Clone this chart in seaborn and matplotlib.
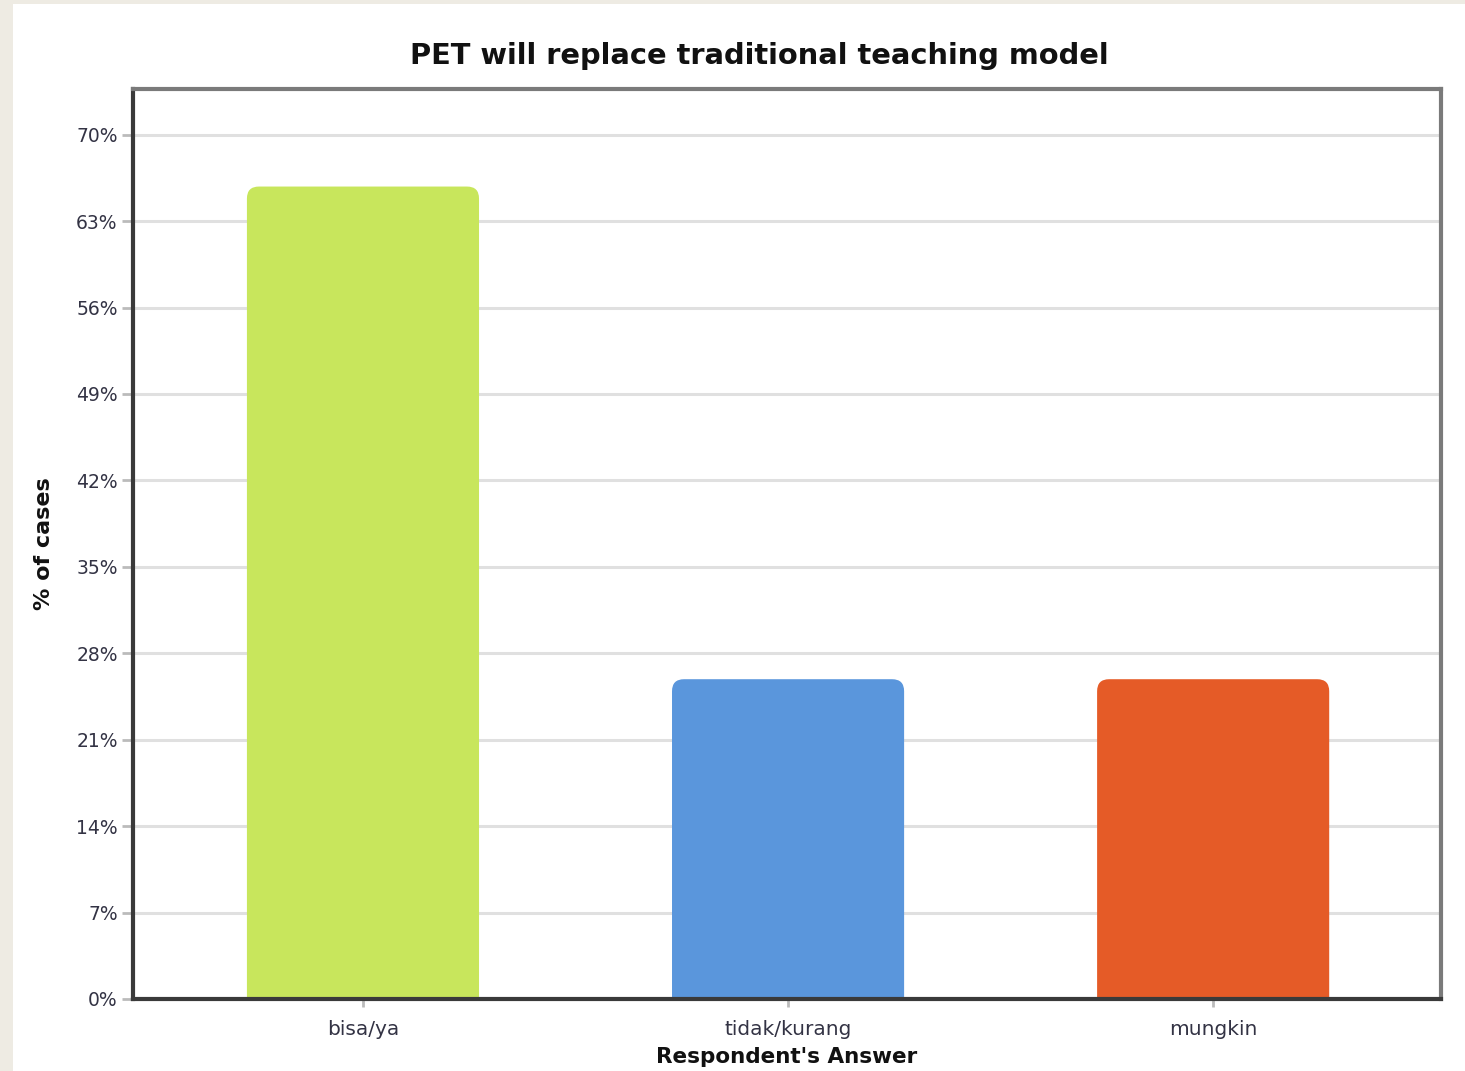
import matplotlib
matplotlib.use("Agg")
import matplotlib.pyplot as plt
from matplotlib.patches import FancyBboxPatch, Rectangle
import seaborn as sns
import pandas as pd

categories = ["bisa/ya", "tidak/kurang", "mungkin"]
values = [65.8, 25.9, 25.9]
colors = ["#c8e65c", "#5a96dc", "#e55b27"]
yticks = [0, 7, 14, 21, 28, 35, 42, 49, 56, 63, 70]
ytick_labels = [f"{t}%" for t in yticks]

sns.set_theme(style="white")
plt.rcParams['font.family'] = ['DejaVu Sans']

df = pd.DataFrame({"answer": categories, "pct": values})

fig = plt.figure(figsize=(14.65, 10.71), dpi=100, facecolor="#eeebe3")
fig.patches.append(Rectangle((13/1465, 0), 1 - 13/1465, 1 - 4/1071,
                             transform=fig.transFigure, facecolor="white",
                             edgecolor="none", zorder=-10))
ax = fig.add_axes([133/1465, 1 - 999/1071, (1441 - 133)/1465, (999 - 89)/1071])
ax.set_facecolor("white")

sns.barplot(data=df, x="answer", y="pct", hue="answer", palette=colors,
            width=0.546, ax=ax, legend=False, saturation=1)

ax.set_xlim(-0.541, 2.536)
ax.set_ylim(0, 73.7)

# replace square bars with rounded-top bars derived from each bar's geometry
x_px_per_unit = 425.0
y_px_per_unit = 86.4 / 7
radius_px = 12
rx = radius_px / x_px_per_unit
aspect = (1 / y_px_per_unit) / (1 / x_px_per_unit)
for p in list(ax.patches):
    x, y = p.get_x(), p.get_y()
    w, h = p.get_width(), p.get_height()
    fc = p.get_facecolor()
    p.set_visible(False)
    ext = 3.0
    fb = FancyBboxPatch((x, y - ext), w, h + ext,
                        boxstyle=f"round,pad=0,rounding_size={rx}",
                        mutation_aspect=aspect, facecolor=fc,
                        edgecolor="none", zorder=3, clip_on=True)
    ax.add_patch(fb)

ax.set_yticks(yticks)
ax.set_yticklabels(ytick_labels)
ax.yaxis.grid(True, color="#e0e0e0", linewidth=2.2, zorder=0)
ax.set_axisbelow(True)

ax.tick_params(axis="y", which="major", length=8, width=2, color="#bbbbbb",
               labelsize=13.5, labelcolor="#333344", pad=3, left=True)
ax.tick_params(axis="x", which="major", length=6, width=2, color="#bbbbbb",
               labelsize=14.5, labelcolor="#333344", pad=9, bottom=True)

for side in ["left", "bottom"]:
    ax.spines[side].set_color("#3a3a3a")
    ax.spines[side].set_linewidth(3)
for side in ["top", "right"]:
    ax.spines[side].set_color("#7a7a7a")
    ax.spines[side].set_linewidth(3)
for s in ax.spines.values():
    s.set_visible(True)
    s.set_zorder(5)

ax.set_xlabel("Respondent's Answer", fontsize=15.5, fontweight="bold",
              color="#111111", labelpad=6)
ax.set_ylabel("% of cases", fontsize=16, fontweight="bold", color="#111111",
              labelpad=16)

fig.text(759/1465, 1 - 56/1071, "PET will replace traditional teaching model",
         ha="center", va="center", fontsize=20.8, fontweight="bold",
         color="#111111")

fig.savefig("out.png", dpi=100, facecolor=fig.get_facecolor())
